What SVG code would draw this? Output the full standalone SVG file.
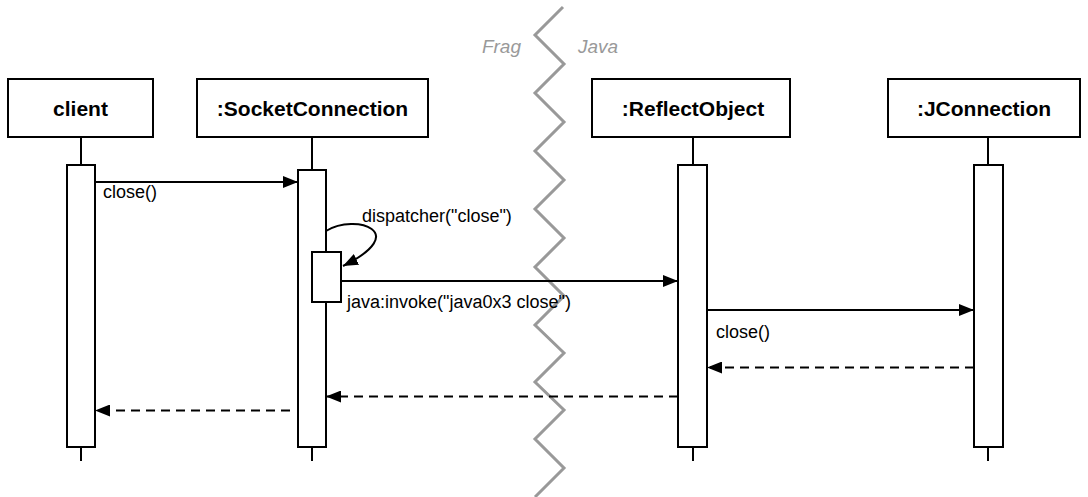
<svg xmlns="http://www.w3.org/2000/svg" width="1088" height="497" viewBox="0 0 1088 497">
<defs>
<style>
.box{fill:#fff;stroke:#000;stroke-width:2}
.life{stroke:#000;stroke-width:2;fill:none}
.title{font-family:"Liberation Sans",Arial,sans-serif;font-weight:bold;font-size:21px;text-anchor:middle;fill:#000}
.lbl{font-family:"Liberation Sans",Arial,sans-serif;font-size:18px;fill:#000}
.zone{font-family:"Liberation Sans",Arial,sans-serif;font-style:italic;font-size:19px;fill:#999}
.msg{stroke:#000;stroke-width:2;fill:none;marker-end:url(#arr)}
.ret{stroke:#000;stroke-width:2;fill:none;stroke-dasharray:9 6;marker-end:url(#arr)}
</style>
<marker id="arr" markerUnits="userSpaceOnUse" markerWidth="16" markerHeight="12" refX="15" refY="6" orient="auto">
<path d="M0,0 L15,6 L0,12 Z" fill="#000"/>
</marker>
</defs>
<g id="boundary">
<polyline points="563,7 535,35 564,64 535,93 564,122 535,151 564,180 535,209 564,238 535,267 564,296 535,325 564,353 535,382 564,410 535,439 564,468 535,497" fill="none" stroke="#999" stroke-width="3"/>
<text class="zone" x="521" y="53" text-anchor="end">Frag</text>
<text class="zone" x="578" y="53">Java</text>
</g>
<g id="client">
<line class="life" x1="81" y1="137" x2="81" y2="461"/>
<rect class="box" x="8" y="79" width="145" height="58"/>
<text class="title" x="80.5" y="116">client</text>
<rect class="box" x="67" y="165" width="28" height="282"/>
</g>
<g id="socketConnection">
<line class="life" x1="312" y1="137" x2="312" y2="461"/>
<rect class="box" x="197" y="79" width="231" height="58"/>
<text class="title" x="312.5" y="116">:SocketConnection</text>
<rect class="box" x="298" y="170" width="28" height="277"/>
<rect class="box" x="312" y="252" width="29" height="50"/>
</g>
<g id="reflectObject">
<line class="life" x1="693" y1="137" x2="693" y2="461"/>
<rect class="box" x="592" y="79" width="198" height="58"/>
<text class="title" x="693" y="116">:ReflectObject</text>
<rect class="box" x="678" y="165" width="29" height="282"/>
</g>
<g id="jConnection">
<line class="life" x1="988" y1="137" x2="988" y2="461"/>
<rect class="box" x="888" y="79" width="192" height="58"/>
<text class="title" x="984" y="116">:JConnection</text>
<rect class="box" x="974" y="165" width="29" height="282"/>
</g>
<g id="connectors">
<line class="msg" x1="95" y1="182" x2="298" y2="182"/>
<text class="lbl" x="103" y="198">close()</text>
<path class="msg" d="M326,231 C356,213 412,232 343,266"/>
<text class="lbl" x="362" y="222">dispatcher("close")</text>
<line class="msg" x1="341" y1="281" x2="678" y2="281"/>
<text class="lbl" x="347" y="308">java:invoke("java0x3 close")</text>
<line class="msg" x1="707" y1="310" x2="974" y2="310"/>
<text class="lbl" x="716" y="338">close()</text>
<line class="ret" x1="974" y1="367.5" x2="707" y2="367.5"/>
<line class="ret" x1="678" y1="396.5" x2="326" y2="396.5"/>
<line class="ret" x1="290" y1="410.5" x2="95" y2="410.5"/>
</g>
</svg>
